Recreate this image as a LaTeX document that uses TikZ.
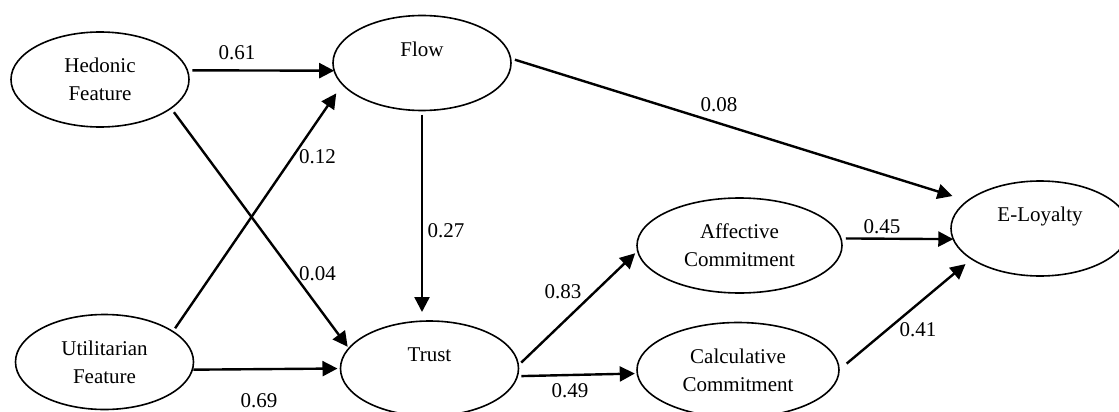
\documentclass[tikz,border=0pt]{standalone}
\usepackage{fontspec}
\setmainfont{Liberation Serif}
\usetikzlibrary{arrows.meta,shapes.geometric}

\begin{document}
\begin{tikzpicture}[x=1pt, y=-1pt,
    font=\fontsize{21}{28}\selectfont,
    construct/.style={draw, ellipse, line width=1.6pt, inner sep=0pt, outer sep=0pt,
                      minimum width=178pt, minimum height=95pt, align=center},
    coef/.style={inner sep=0pt},
    effect/.style={-{Triangle[length=15pt,width=15pt]}, line width=2.4pt}]

\useasboundingbox (0,0) rectangle (1119,412);

\node[construct] (hedonic) at (100,79.5) {Hedonic\\Feature};
\node[construct] (util) at (104.5,362) {Utilitarian\\Feature};
\node[construct] (flow) at (422,63) {Flow\\\mbox{}};
\node[construct] (trust) at (429.5,368.5) {Trust\\\mbox{}};
\node[construct, minimum width=205pt] (affective) at (739.5,245.5) {Affective\\Commitment};
\node[construct, minimum width=202pt] (calculative) at (738,370) {Calculative\\Commitment};
\node[construct] (eloyal) at (1040,228.5) {E-Loyalty\\\mbox{}};

\draw[effect, shorten <=5pt] (hedonic.6) -- (flow.185);
\draw[effect, shorten <=4pt, shorten >=11pt] (util.24) -- (flow.195);
\draw[effect, shorten <=5pt, shorten >=2pt] (hedonic.-22) -- (trust.166);
\draw[effect, shorten <=1pt, shorten >=3pt] (util.-5) -- (trust.180);
\draw[effect, shorten <=4pt, shorten >=9pt] (flow.south) -- (flow.south |- trust.north);
\draw[effect, shorten <=4.5pt, shorten >=16pt] (flow.3) -- (eloyal.159);
\draw[effect, shorten <=4pt, shorten >=3.5pt] (trust.2) -- (affective.183);
\draw[effect, shorten <=4pt, shorten >=2.5pt] (trust.-5) -- (calculative.182);
\draw[effect, shorten <=5pt] (affective.4) -- (eloyal.187);
\draw[effect, shorten <=10pt, shorten >=8pt] (calculative.0) -- (eloyal.204);

\node[coef] (b61) at (237,53) {0.61};
\node[coef] (b12) at (317.5,157) {0.12};
\node[coef] (b04) at (317.5,274) {0.04};
\node[coef] (b27) at (446,231) {0.27};
\node[coef] (b69) at (259,401) {0.69};
\node[coef] (b08) at (719,105) {0.08};
\node[coef] (b83) at (563,292) {0.83};
\node[coef] (b49) at (570,391) {0.49};
\node[coef] (b45) at (882,227) {0.45};
\node[coef] (b41) at (918,330) {0.41};

\end{tikzpicture}
\end{document}
